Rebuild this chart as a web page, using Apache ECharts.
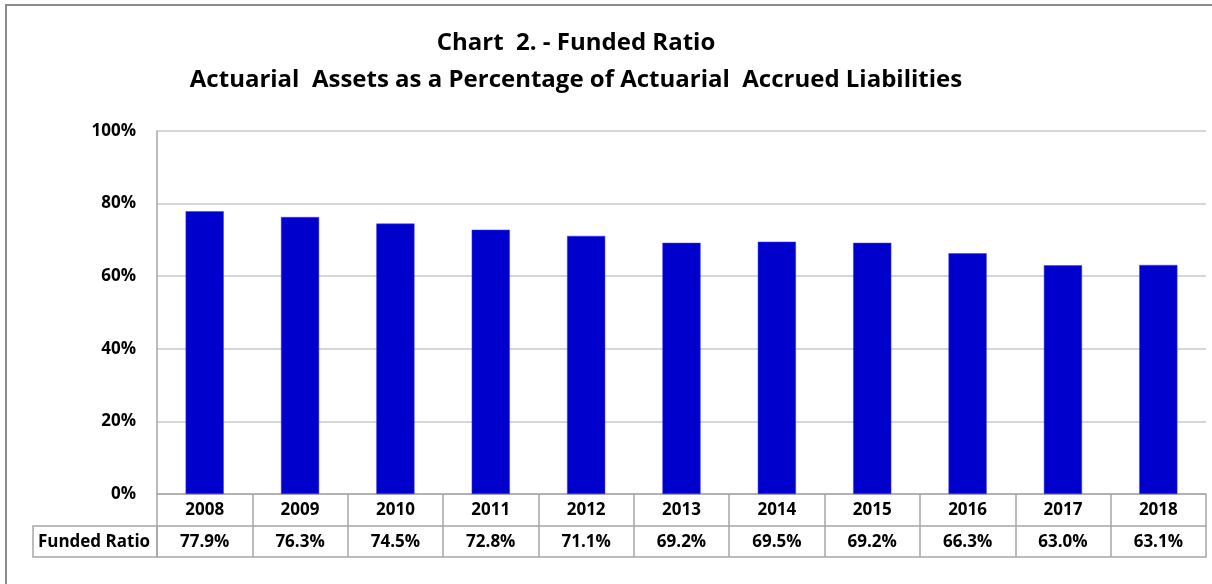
<!DOCTYPE html>
<html>
<head>
<meta charset="utf-8">
<script src="https://cdn.jsdelivr.net/npm/echarts@6/dist/echarts.min.js"></script>
<style>
  html, body { margin: 0; padding: 0; background: #fff; }
  #chart { width: 1212px; height: 584px; }
</style>
</head>
<body>
<div id="chart"></div>
<script>
// 数据
var years = ["2008", "2009", "2010", "2011", "2012", "2013", "2014", "2015", "2016", "2017", "2018"];
var fundedRatio = [77.9, 76.3, 74.5, 72.8, 71.1, 69.2, 69.5, 69.2, 66.3, 63.0, 63.1];
var seriesName = "Funded Ratio";
var titleLines = ["Chart  2. - Funded Ratio", "Actuarial  Assets as a Percentage of Actuarial  Accrued Liabilities"];

var font = "Open Sans";
var lineColor = "#a6a6a6";

var chart = echarts.init(document.getElementById("chart"));

var option = {
  backgroundColor: "#fff",
  animation: false,
  textStyle: { fontFamily: font },
  grid: {
    left: 157,
    right: 6,
    top: 131,
    bottom: 90,
    containLabel: false,
  },
  graphic: [
    {
      // 外框
      type: "rect",
      shape: { x: 6, y: 5, width: 1220, height: 600 },
      style: { fill: "none", stroke: "#8c8c8c", lineWidth: 2 },
      silent: true,
    },
    {
      type: "text",
      x: 576,
      y: 43,
      style: {
        text: titleLines[0],
        align: "center",
        verticalAlign: "middle",
        font: "bold 24px " + font,
        fill: "#000",
      },
    },
    {
      type: "text",
      x: 576,
      y: 80,
      style: {
        text: titleLines[1],
        align: "center",
        verticalAlign: "middle",
        font: "bold 24px " + font,
        fill: "#000",
      },
    },
    {
      // 表格左侧单元格
      type: "rect",
      shape: { x: 33, y: 526, width: 124, height: 31 },
      style: { fill: "none", stroke: lineColor, lineWidth: 1.5 },
      silent: true,
    },
    {
      type: "text",
      x: 94,
      y: 542,
      style: {
        text: seriesName,
        align: "center",
        verticalAlign: "middle",
        font: "bold 17px " + font,
        fill: "#000",
      },
    },
  ],
  xAxis: [
    {
      type: "category",
      data: years,
      position: "bottom",
      axisLine: { show: true, lineStyle: { color: lineColor, width: 1.5 } },
      axisTick: { show: true, length: 63, lineStyle: { color: lineColor, width: 1.5 } },
      axisLabel: {
        interval: 0,
        margin: 16,
        verticalAlign: "middle",
        color: "#000",
        fontWeight: "bold",
        fontSize: 17,
      },
      splitLine: { show: false },
    },
    {
      // 数据表第二行
      type: "category",
      data: fundedRatio.map(function (v) { return v.toFixed(1) + "%"; }),
      position: "bottom",
      offset: 32,
      axisLine: { show: true, lineStyle: { color: lineColor, width: 1.5 } },
      axisTick: { show: false },
      axisLabel: {
        interval: 0,
        margin: 16,
        verticalAlign: "middle",
        color: "#000",
        fontWeight: "bold",
        fontSize: 17,
      },
    },
    {
      type: "category",
      data: years,
      position: "bottom",
      offset: 63,
      axisLine: { show: true, lineStyle: { color: lineColor, width: 1.5 } },
      axisTick: { show: false },
      axisLabel: { show: false },
    },
  ],
  yAxis: {
    type: "value",
    min: 0,
    max: 100,
    interval: 20,
    axisLine: { show: true, lineStyle: { color: lineColor, width: 1.5 } },
    axisTick: { show: false },
    axisLabel: {
      formatter: "{value}%",
      margin: 21,
      color: "#000",
      fontWeight: "bold",
      fontSize: 17,
    },
    splitLine: { show: true, lineStyle: { color: "#c8c8c8", width: 1.5 } },
  },
  series: [
    {
      name: seriesName,
      type: "bar",
      xAxisIndex: 0,
      barWidth: "40%",
      data: fundedRatio,
      itemStyle: { color: "#0000cc", borderColor: "#3a3aee", borderWidth: 0.5 },
    },
  ],
};

chart.setOption(option);
</script>
</body>
</html>
